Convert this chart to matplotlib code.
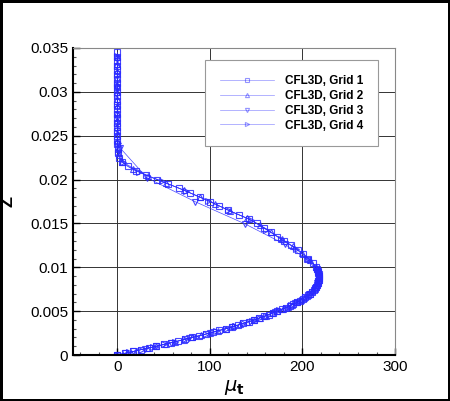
import matplotlib
matplotlib.use('Agg')
import matplotlib.pyplot as plt
from matplotlib.ticker import MultipleLocator, FuncFormatter

plt.rcParams['font.family'] = ['Liberation Sans', 'DejaVu Sans']
plt.rcParams['mathtext.fontset'] = 'dejavusans'

# Grid 1 (squares) - finest, clustered near the wall
g1_z = [0.0, 0.0002, 0.0004, 0.0006, 0.0008, 0.001, 0.0012, 0.0014, 0.0016, 0.0018,
        0.002, 0.0022, 0.0024, 0.0026, 0.0028, 0.003, 0.0032, 0.0034, 0.0036, 0.0038,
        0.004, 0.0042, 0.0044, 0.0046, 0.0048, 0.005, 0.0052, 0.0054, 0.0056, 0.0058,
        0.006, 0.0062, 0.0064, 0.0066, 0.0068, 0.007, 0.0072, 0.0074, 0.0076, 0.0078,
        0.008, 0.0082, 0.0084, 0.0086, 0.0088, 0.009, 0.0092, 0.0094, 0.0096, 0.0098,
        0.01, 0.0105, 0.011, 0.0115, 0.012, 0.0125, 0.013, 0.0135, 0.014, 0.0145,
        0.015, 0.0155, 0.016, 0.0165, 0.017, 0.0175, 0.018, 0.0185, 0.019, 0.0195,
        0.02, 0.0205, 0.021, 0.0215, 0.022, 0.0225, 0.023, 0.0235, 0.024, 0.0245,
        0.025, 0.0255, 0.026, 0.0265, 0.027, 0.0275, 0.028, 0.0285, 0.029, 0.0295,
        0.03, 0.0305, 0.031, 0.0315, 0.032, 0.0325, 0.033, 0.0335, 0.034, 0.0345]
g1_mu = [0, 8.5, 17, 25, 34, 42, 50, 58, 66, 73.5,
         81, 88.5, 96, 103.5, 110, 117, 123.5, 130, 136, 142,
         148, 153, 158.5, 163.5, 168, 173, 177.5, 182, 186, 190,
         194, 197, 200.5, 203, 205.5, 208, 210, 212, 213.5, 215,
         216, 216.8, 217.3, 217.7, 218, 218, 217.8, 217.3, 216.6, 215.8,
         215, 211, 206, 201, 195, 188, 180, 173, 166, 158,
         151, 142, 131, 120, 110, 100, 89, 78, 67, 55,
         43, 31, 20, 11, 5, 2, 0.7, 0.3, 0.1, 0,
         0, 0, 0, 0, 0, 0, 0, 0, 0, 0,
         0, 0, 0, 0, 0, 0, 0, 0, 0, 0]

# Grid 2 (up triangles)
g2_z = [0.0, 0.00025, 0.0005, 0.00075, 0.001, 0.00125, 0.0015, 0.00175, 0.002, 0.00225,
        0.0025, 0.00275, 0.003, 0.00325, 0.0035, 0.00375, 0.004, 0.00425, 0.0045, 0.00475,
        0.005, 0.00525, 0.0055, 0.00575, 0.006, 0.00625, 0.0065, 0.00675, 0.007, 0.00725,
        0.0075, 0.00775, 0.008, 0.00825, 0.0085, 0.00875, 0.009, 0.00925, 0.0095, 0.00975,
        0.01, 0.0108, 0.0116, 0.0124, 0.0132, 0.014, 0.0148, 0.0156, 0.0164, 0.0172,
        0.018, 0.0188, 0.0196, 0.0204, 0.0212, 0.022, 0.0228, 0.0236, 0.0244, 0.0252,
        0.026, 0.0268, 0.0276, 0.0284, 0.0292, 0.03, 0.0308, 0.0316, 0.0324, 0.0332,
        0.034]
g2_mu = [0, 10.5, 21, 31.5, 42, 52, 62, 71.5, 81, 90.5,
         100, 108.5, 117, 125, 133, 140.5, 148, 154.5, 161, 167,
         173, 178.5, 184, 189, 194, 198, 202, 205, 208, 210.5,
         213, 214.5, 216, 216.8, 217.5, 217.8, 218, 217.6, 217, 216,
         215, 208.5, 200, 189.5, 177.5, 166, 154, 140, 122, 106,
         89, 71.5, 52.5, 33.5, 16.5, 5, 1.2, 0.3, 0, 0,
         0, 0, 0, 0, 0, 0, 0, 0, 0, 0,
         0]

# Grid 3 (down triangles) - coarsest
g3_z = [0.0, 0.0002, 0.0004, 0.0007, 0.001, 0.0014, 0.0019, 0.0025, 0.0032, 0.004,
        0.0049, 0.0059, 0.007, 0.0082, 0.0095, 0.01083, 0.01262, 0.01494, 0.01748, 0.0202,
        0.0236, 0.027, 0.0304, 0.0338]
g3_mu = [0, 8.5, 17, 29.5, 42, 58, 77, 100, 123.5, 148,
         170, 192, 208, 215.5, 216.5, 206, 181, 138, 84, 32,
         3, 0, 0, 0]

# Grid 4 (right triangles)
g4_z = [0.0, 0.0003, 0.0006, 0.0009, 0.0012, 0.0015, 0.0018, 0.0021, 0.0024, 0.0027,
        0.003, 0.0033, 0.0036, 0.0039, 0.0042, 0.0045, 0.0048, 0.0051, 0.0054, 0.0057,
        0.006, 0.0063, 0.0066, 0.0069, 0.0072, 0.0075, 0.0078, 0.0081, 0.0084, 0.0087,
        0.009, 0.0093, 0.0096, 0.0099, 0.011, 0.0121, 0.0132, 0.0143, 0.0154, 0.0165,
        0.0176, 0.0187, 0.0198, 0.0209, 0.022, 0.0231, 0.0242, 0.0253, 0.0264, 0.0275,
        0.0286, 0.0297, 0.0308, 0.0319, 0.033, 0.0341]
g4_mu = [0, 12.5, 25, 38, 50, 62, 73.5, 85, 96, 106.5,
         117, 127, 136, 145, 153, 161, 168, 175, 182, 188,
         194, 199.5, 203, 207, 210, 213, 215, 216.5, 217.3, 217.8,
         218, 217.6, 216.6, 215.4, 205, 193, 177, 161, 144, 120,
         98, 74, 48, 23, 6, 1, 0.2, 0, 0, 0,
         0, 0, 0, 0, 0, 0]

labels = ['CFL3D, Grid 1', 'CFL3D, Grid 2', 'CFL3D, Grid 3', 'CFL3D, Grid 4']
markers = ['s', '^', 'v', '>']

fig = plt.figure(figsize=(4.5, 4.01), dpi=100)
fig.patch.set_edgecolor('black')
fig.patch.set_linewidth(2.5)
ax = fig.add_axes([0.1622, 0.1147, 0.7156, 0.7656])

blue = '#2a2aff'
for zz, mm, lab, mk in zip([g1_z, g2_z, g3_z, g4_z], [g1_mu, g2_mu, g3_mu, g4_mu],
                           labels, markers):
    ax.plot(mm, zz, color=blue, lw=0.5, marker=mk, ms=4, mfc='none',
            mew=0.8, label=lab, alpha=0.85)

ax.set_xlim(-48, 300)
ax.set_ylim(0, 0.035)
ax.xaxis.set_major_locator(MultipleLocator(100))
ax.xaxis.set_minor_locator(MultipleLocator(20))
ax.yaxis.set_major_locator(MultipleLocator(0.005))
ax.yaxis.set_minor_locator(MultipleLocator(0.001))
ax.yaxis.set_major_formatter(FuncFormatter(lambda v, p: '%g' % round(v, 4)))
ax.tick_params(which='both', direction='in', top=False, right=False, labelsize=11)
ax.tick_params(which='major', length=5, width=1)
ax.tick_params(which='minor', length=2.5, width=0.8, color='#555555')
ax.grid(True, which='major', color='#333333', lw=0.7)

for s in ['left', 'bottom']:
    ax.spines[s].set_linewidth(1.5)
for s in ['top', 'right']:
    ax.spines[s].set_color('#888888')
    ax.spines[s].set_linewidth(0.8)

ax.set_xlabel(r'$\mu_\mathbf{t}$', fontsize=14, labelpad=3)
ax.set_ylabel('Z', fontsize=13, fontweight='bold', labelpad=10)

# legend box: left 205px, top 60px
leg = ax.legend(loc='upper left', bbox_to_anchor=(0.41, 0.961), borderaxespad=0,
                fancybox=False, edgecolor='#999999', handlelength=4.6,
                handletextpad=0.9, borderpad=1.25, labelspacing=0.25,
                prop={'weight': 'bold', 'size': 8.5}, framealpha=1)
leg.get_frame().set_linewidth(0.8)
for h in leg.get_lines():
    h.set_alpha(0.5)
    h.set_markersize(3)

fig.savefig('out.png', dpi=100)
